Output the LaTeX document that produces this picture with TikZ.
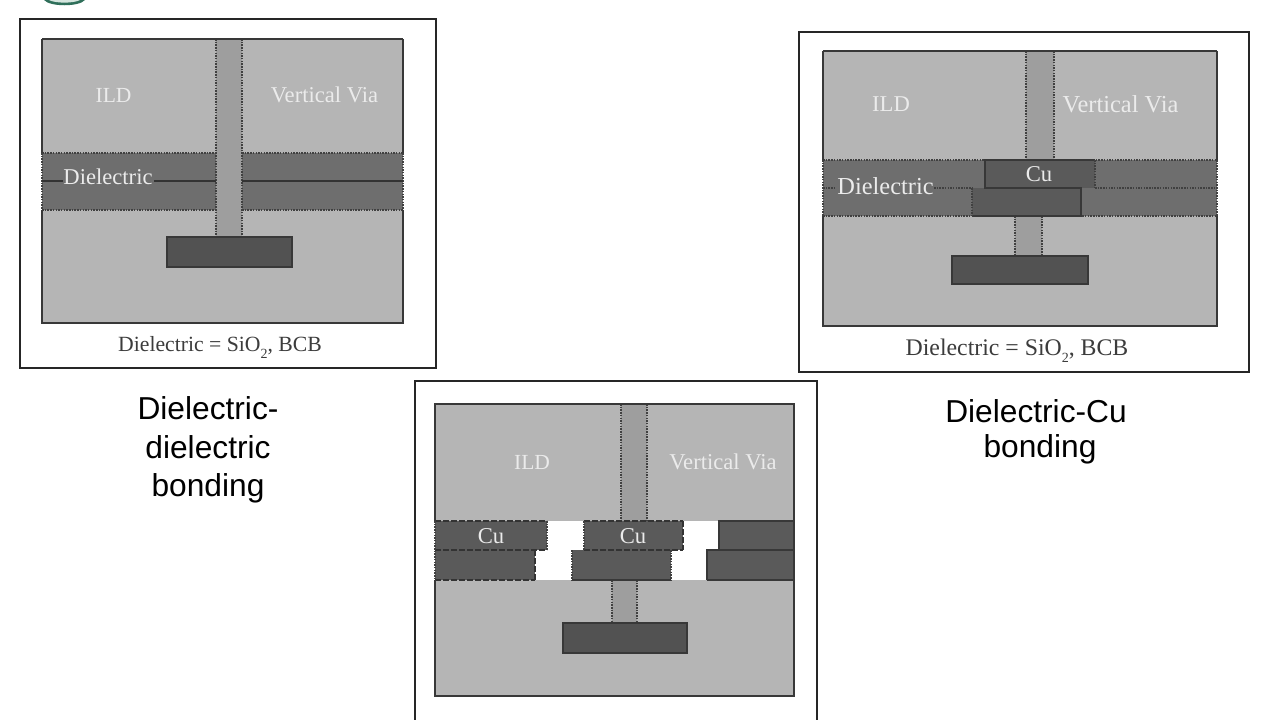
\documentclass[tikz,border=0pt]{standalone}
\usepackage{fontspec}
\setmainfont{Liberation Serif}
\newfontfamily\slidefont{Liberation Sans}
\definecolor{ildc}{HTML}{B5B5B5}
\definecolor{viac}{HTML}{9E9E9E}
\definecolor{diec}{HTML}{6E6E6E}
\definecolor{cuc}{HTML}{5A5A5A}
\definecolor{padc}{HTML}{525252}
\definecolor{edgec}{HTML}{383838}
\definecolor{lablc}{HTML}{EBEBEB}
\definecolor{capc}{HTML}{3C3C3C}
\definecolor{logoc}{HTML}{2F6F5A}
\definecolor{logoi}{HTML}{D5E5DE}
\newcommand{\subtwo}{\raisebox{-0.28em}{\fontsize{14}{14}\selectfont 2}}
\tikzset{
  x=1pt,y=-1pt,
  framebox/.style={draw=black!85,line width=1.1pt,fill=white},
  solidbox/.style={draw=edgec,line width=1.5pt},
  dotline/.style={draw=black!75,line width=1.4pt,dash pattern=on 1.5pt off 1.2pt},
  dashline/.style={draw=black!80,line width=1.3pt,dash pattern=on 6pt off 2pt},
  inlabel/.style={text=lablc,font=\fontsize{22.6}{25}\selectfont,inner sep=0pt},
  smalllabel/.style={text=lablc,font=\fontsize{21.5}{24}\selectfont,inner sep=0pt},
  biglabel/.style={text=lablc,font=\fontsize{24.4}{27}\selectfont,inner sep=0pt},
  caplabel/.style={text=capc,font=\fontsize{21.7}{24}\selectfont,inner sep=0pt},
  bigcap/.style={text=capc,font=\fontsize{23.8}{26}\selectfont,inner sep=0pt},
  sidelabel/.style={text=black,font=\slidefont\fontsize{31.7}{38.5}\selectfont,align=center,inner sep=0pt}
}
\begin{document}
\begin{tikzpicture}
\useasboundingbox (0,0) rectangle (1280,720);
\fill[white] (0,0) rectangle (1280,720);

% logo fragment at the top edge
\fill[logoc] (44,0) .. controls (50,7) and (79,7) .. (85,0) -- cycle;
\fill[logoi] (49,0) .. controls (55,3.5) and (74,3.5) .. (80,0) -- cycle;

% ---------- panel 1
\draw[framebox] (20,19) rectangle (436,368);
\fill[ildc] (42,39) rectangle (403,323);
\fill[diec] (42,153) rectangle (403,210);
\fill[viac] (216,39) rectangle (242,237);
\draw[dotline] (42,153) -- (216,153) (242,153) -- (403,153);
\draw[dotline] (42,210) -- (216,210) (242,210) -- (403,210);
\draw[dotline] (42,153) -- (42,210) (403,153) -- (403,210);
\draw[dotline] (216,39) -- (216,237) (242,39) -- (242,237);
\draw[draw=black!80,line width=1.2pt] (42,181) -- (63,181) (154,181) -- (216,181) (242,181) -- (403,181);
\draw[solidbox] (42,39) -- (403,39) (42,39) -- (42,153) (403,39) -- (403,153) (42,210) -- (42,323) -- (403,323) -- (403,210);
\draw[solidbox,fill=padc] (167,237) rectangle (292,267);
\node[smalllabel] (ildA) at (113.5,95) {ILD};
\node[inlabel] (viaA) at (324.5,95) {Vertical Via};
\node[inlabel] (dieA) at (108,177) {Dielectric};
\node[caplabel] (capA) at (220,347.5) {Dielectric = SiO\subtwo, BCB};

% ---------- panel 2
\draw[framebox] (799,32) rectangle (1249,372);
\fill[ildc] (823,51) rectangle (1217,326);
\fill[diec] (823,160) rectangle (1217,216);
\fill[viac] (1026,51) rectangle (1054,160);
\fill[viac] (1015,216) rectangle (1042,256);
\draw[dotline] (823,160) -- (1217,160) (823,216) -- (1217,216);
\draw[dotline] (823,160) -- (823,216) (1217,160) -- (1217,216);
\draw[dotline] (1026,51) -- (1026,160) (1054,51) -- (1054,160);
\draw[dotline] (1015,216) -- (1015,256) (1042,216) -- (1042,256);
\draw[dotline] (823,188) -- (836,188) (934,188) -- (972,188) (1095,188) -- (1217,188);
\draw[solidbox] (823,51) -- (1217,51) (823,51) -- (823,160) (1217,51) -- (1217,160) (823,216) -- (823,326) -- (1217,326) -- (1217,216);
\fill[cuc] (985,160) rectangle (1095,188);
\fill[cuc] (972,188) rectangle (1081,216);
\draw[solidbox] (1095,160) -- (985,160) -- (985,188) -- (1081,188) -- (1081,216) -- (972,216);
\draw[dotline] (1095,160) -- (1095,188) (972,188) -- (972,216);
\draw[solidbox,fill=padc] (952,256) rectangle (1088,284);
\node[inlabel] (ildB) at (891,104) {ILD};
\node[biglabel] (viaB) at (1120.5,104) {Vertical Via};
\node[inlabel] (cuB) at (1039,174) {Cu};
\node[biglabel] (dieB) at (885.5,186) {Dielectric};
\node[bigcap] (capB) at (1017,350.5) {Dielectric = SiO\subtwo, BCB};

% ---------- panel 3
\fill[white] (415,381) rectangle (817,720);
\draw[framebox,fill=none] (415,720) -- (415,381) -- (817,381) -- (817,720);
\fill[ildc] (435,404) rectangle (794,696);
\fill[viac] (621,404) rectangle (647,521);
\fill[viac] (612,580) rectangle (637,623);
\draw[dotline] (621,404) -- (621,521) (647,404) -- (647,521);
\draw[dotline] (612,580) -- (612,623) (637,580) -- (637,623);
\fill[white] (435,521) rectangle (794,580);
\fill[cuc] (435,521) rectangle (547,550);
\fill[cuc] (584,521) rectangle (683,550);
\fill[cuc] (719,521) rectangle (794,550);
\fill[cuc] (435,550) rectangle (535,580);
\fill[cuc] (572,550) rectangle (671,580);
\fill[cuc] (707,550) rectangle (794,580);
% dashed and dotted bonds
\draw[dashline] (435,521) -- (547,521) (584,521) -- (683,521);
\draw[dashline] (435,550) -- (547,550) (584,550) -- (683,550);
\draw[dashline] (435,580) -- (535,580);
\draw[dashline] (683,521) -- (683,550) (535,550) -- (535,580);
\draw[dotline] (435,521) -- (435,580) (547,521) -- (547,550) (584,521) -- (584,550) (572,550) -- (572,580) (671,550) -- (671,580);
\draw[draw=edgec,line width=1.3pt] (572,580) -- (671,580) (707,580) -- (794,580);
\draw[solidbox] (794,521) -- (719,521) -- (719,550) -- (794,550);
\draw[solidbox] (794,550) -- (707,550) -- (707,580);
\draw[solidbox] (435,580) -- (435,696) -- (794,696) -- (794,404) -- (435,404) -- (435,521);
\draw[solidbox,fill=padc] (563,623) rectangle (687,653);
\node[smalllabel] (ildC) at (532,462) {ILD};
\node[inlabel] (viaC) at (723,462) {Vertical Via};
\node[inlabel] (cuC1) at (491,536) {Cu};
\node[inlabel] (cuC2) at (633,536) {Cu};

% ---------- side labels
\node[sidelabel] (lblA) at (208,450) {Dielectric-\\dielectric\\bonding};
\node[sidelabel] (lblB1) at (1036,411) {Dielectric-Cu};
\node[sidelabel] (lblB2) at (1040,449.5) {bonding};
\end{tikzpicture}
\end{document}
